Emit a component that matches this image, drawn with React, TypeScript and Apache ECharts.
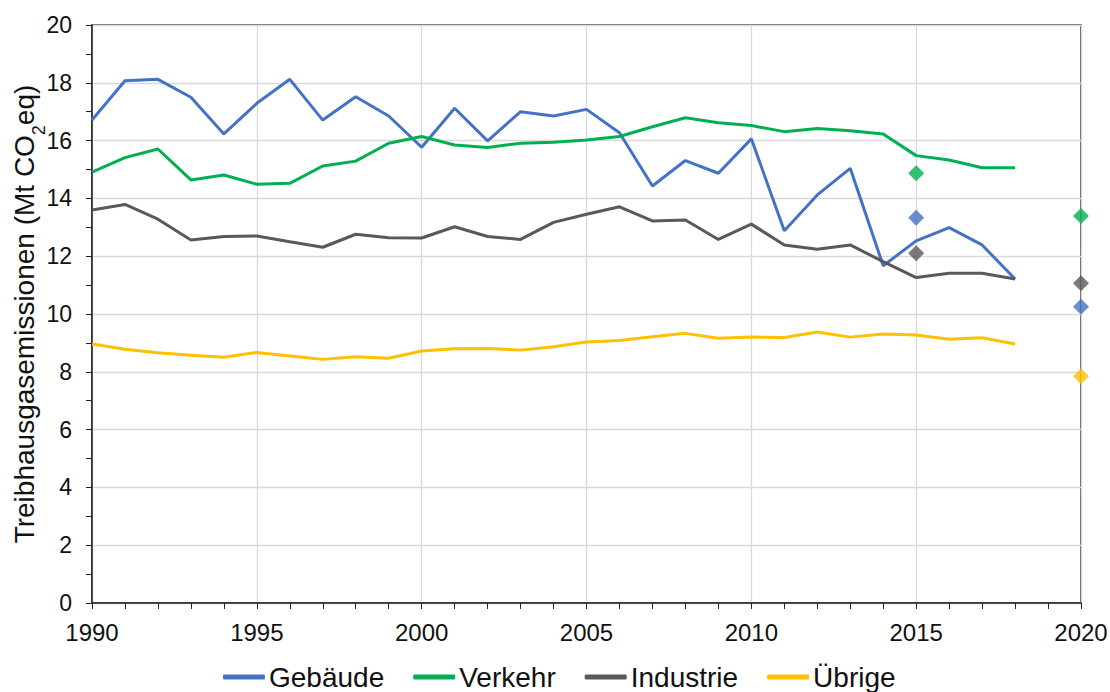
import React, { useEffect, useRef } from "react";
import * as echarts from "echarts";

const years = [1990, 1991, 1992, 1993, 1994, 1995, 1996, 1997, 1998, 1999, 2000, 2001, 2002, 2003, 2004, 2005, 2006, 2007, 2008, 2009, 2010, 2011, 2012, 2013, 2014, 2015, 2016, 2017, 2018];
const gebaeude = [16.71, 18.07, 18.12, 17.5, 16.23, 17.29, 18.12, 16.71, 17.52, 16.85, 15.77, 17.12, 15.99, 17.0, 16.85, 17.08, 16.27, 14.43, 15.31, 14.87, 16.06, 12.88, 14.12, 15.04, 11.67, 12.53, 12.99, 12.39, 11.21];
const verkehr = [14.91, 15.41, 15.71, 14.64, 14.81, 14.49, 14.52, 15.12, 15.29, 15.91, 16.14, 15.85, 15.76, 15.91, 15.94, 16.02, 16.14, 16.48, 16.79, 16.62, 16.52, 16.31, 16.42, 16.34, 16.23, 15.48, 15.33, 15.06, 15.06];
const industrie = [13.6, 13.79, 13.28, 12.56, 12.68, 12.7, 12.5, 12.31, 12.76, 12.64, 12.63, 13.02, 12.68, 12.58, 13.17, 13.45, 13.71, 13.22, 13.25, 12.58, 13.11, 12.39, 12.24, 12.39, 11.81, 11.26, 11.41, 11.41, 11.21];
const uebrige = [8.96, 8.78, 8.66, 8.57, 8.5, 8.67, 8.55, 8.43, 8.52, 8.47, 8.72, 8.8, 8.81, 8.75, 8.87, 9.03, 9.08, 9.21, 9.33, 9.16, 9.2, 9.19, 9.38, 9.2, 9.31, 9.27, 9.13, 9.18, 8.96];

// Target points (diamonds)
const targetYears = [2015, 2020];
const gebaeudeTarget = [13.33, 10.25];
const verkehrTarget = [14.87, 13.39];
const industrieTarget = [12.1, 11.06];
const uebrigeTarget: (number | null)[] = [null, 7.85];

const names = ["Gebäude", "Verkehr", "Industrie", "Übrige"];
const colors = ["#4472C4", "#00B050", "#595959", "#FFC000"];

const FONT = "Liberation Sans, Arial, sans-serif";

export default function App() {
  const ref = useRef<HTMLDivElement>(null);
  useEffect(() => {
    document.body.style.margin = "0";
    if (!ref.current) return;
    const chart = echarts.init(ref.current, null, { renderer: "svg" });
    const lineData = [gebaeude, verkehr, industrie, uebrige];
    const targetData = [gebaeudeTarget, verkehrTarget, industrieTarget, uebrigeTarget];
    const series: any[] = [];
    lineData.forEach((arr, i) => {
      series.push({
        name: names[i],
        type: "line",
        data: years.map((y, k) => [y, arr[k]]),
        showSymbol: false,
        symbol: "none",
        lineStyle: { width: 3, color: colors[i] },
        itemStyle: { color: colors[i] },
        z: 3,
      });
    });
    targetData.forEach((arr, i) => {
      series.push({
        name: names[i] + " Ziel",
        type: "scatter",
        data: targetYears
          .map((y, k) => [y, arr[k]])
          .filter((d) => d[1] !== null),
        symbol: "diamond",
        symbolSize: 16,
        itemStyle: { color: colors[i] },
        z: 4,
      });
    });
    chart.setOption({
      animation: false,
      textStyle: { fontFamily: FONT },
      grid: {
        left: 92,
        right: 29,
        top: 25,
        bottom: 89,
        containLabel: false,
        outerBoundsMode: "none",
        show: true,
        borderColor: "#333",
        borderWidth: 1.5,
      },
      legend: {
        data: names.map((n, i) => ({ name: n, itemStyle: { color: colors[i] } })),
        top: 658,
        left: 218,
        icon: "roundRect",
        itemWidth: 42,
        itemHeight: 5,
        itemGap: 29,
        textStyle: { fontSize: 28, color: "#111", fontFamily: FONT, padding: [0, 0, 0, -1] },
      },
      xAxis: {
        type: "value",
        min: 1990,
        max: 2020,
        interval: 5,
        axisLine: { show: true, lineStyle: { color: "#222", width: 1.5 } },
        axisTick: { show: true, length: 6, lineStyle: { color: "#222" } },
        minorTick: { show: true, splitNumber: 5, length: 6, lineStyle: { color: "#222" } },
        axisLabel: {
          fontSize: 24,
          color: "#111",
          margin: 17,
          fontFamily: FONT,
          formatter: (v: number) => String(v),
        },
        splitLine: { show: true, lineStyle: { color: "#d9d9d9", width: 1.3 } },
      },
      yAxis: {
        type: "value",
        min: 0,
        max: 20,
        interval: 2,
        name: "Treibhausgasemissionen (Mt CO{sub|2}eq)",
        nameLocation: "middle",
        nameGap: 54,
        nameMoveOverlap: false,
        nameTextStyle: {
          fontSize: 28,
          color: "#111",
          fontFamily: FONT,
          rich: {
            sub: { fontSize: 18, verticalAlign: "bottom", padding: [0, 0, -10, 0], color: "#111", fontFamily: FONT },
          },
        },
        axisLine: { show: true, lineStyle: { color: "#222", width: 1.5 } },
        axisTick: { show: true, length: 6, lineStyle: { color: "#222" } },
        minorTick: { show: true, splitNumber: 2, length: 6, lineStyle: { color: "#222" } },
        axisLabel: { fontSize: 23, color: "#111", margin: 20, fontFamily: FONT },
        splitLine: { show: true, lineStyle: { color: "#d9d9d9", width: 1.3 } },
      },
      series,
    });
    return () => chart.dispose();
  }, []);
  return <div ref={ref} style={{ width: 1110, height: 692 }} />;
}
